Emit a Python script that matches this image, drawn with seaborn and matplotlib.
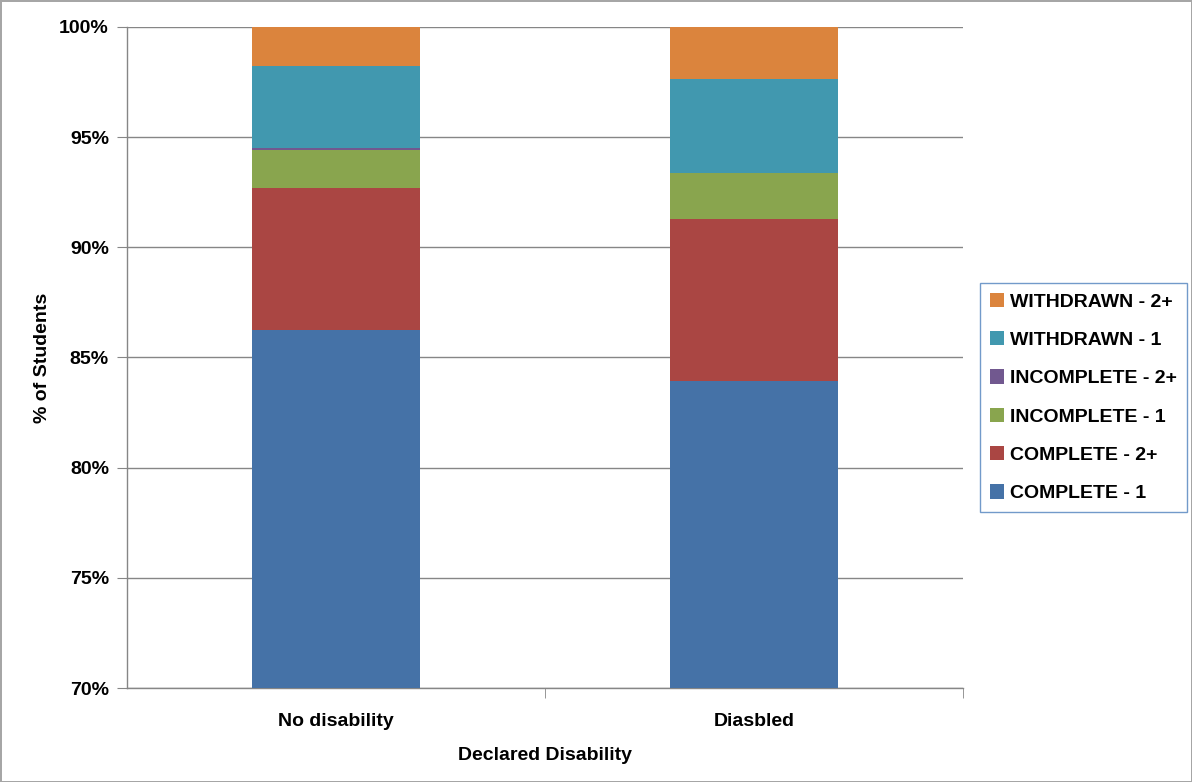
#!/usr/bin/env python3

import numpy as np
import pandas as pd
import matplotlib
matplotlib.use("Agg")
import matplotlib.pyplot as plt
from matplotlib.patches import Patch
from matplotlib.ticker import FuncFormatter
import seaborn as sns

groups = ["No disability", "Diasbled"]
outcomes = ["COMPLETE - 1", "COMPLETE - 2+", "INCOMPLETE - 1",
            "INCOMPLETE - 2+", "WITHDRAWN - 1", "WITHDRAWN - 2+"]
complete_1 = [86.25, 83.94]
complete_2 = [6.45, 7.35]
incomplete_1 = [1.72, 2.09]
incomplete_2 = [0.08, 0.0]
withdrawn_1 = [3.73, 4.26]
withdrawn_2 = [1.77, 2.36]
colors = ["#4572A7", "#AA4643", "#89A54E", "#71588F", "#4198AF", "#DB843D"]

sns.set_style("white")
plt.rcParams['font.family'] = ['Liberation Sans', 'DejaVu Sans']
plt.rcParams['text.color'] = 'black'
plt.rcParams['xtick.color'] = 'black'
plt.rcParams['ytick.color'] = 'black'
plt.rcParams['axes.labelcolor'] = 'black'

fig = plt.figure(figsize=(11.92, 7.82), dpi=100)
fig.patch.set_edgecolor("#a6a6a6")
fig.patch.set_linewidth(2)
ax = fig.add_axes([0.1065, 0.1202, 0.7013, 0.8453])

# cumulative heights, drawn from top layer down so lower layers sit on top
layers = np.array([complete_1, complete_2, incomplete_1, incomplete_2, withdrawn_1, withdrawn_2])
cum = layers.cumsum(axis=0)
for i in range(len(outcomes) - 1, -1, -1):
    df = pd.DataFrame({"group": groups, "value": cum[i]})
    sns.barplot(data=df, x="group", y="value", color=colors[i], width=0.4,
                saturation=1, ax=ax, zorder=3, linewidth=0)

ax.set_ylim(70, 100)
ax.set_xlim(-0.5, 1.5)
ax.set_yticks(np.arange(70, 101, 5))
ax.yaxis.set_major_formatter(FuncFormatter(lambda v, p: f"{v:.0f}%"))
ax.grid(axis="y", color="#868686", linewidth=1, zorder=0)
ax.set_axisbelow(True)
for s in ["top", "right"]:
    ax.spines[s].set_visible(False)
for s in ["left", "bottom"]:
    ax.spines[s].set_color("#868686")
    ax.spines[s].set_linewidth(1)
ax.tick_params(axis="y", left=True, length=7, color="#868686", labelsize=14, pad=6)
ax.tick_params(axis="x", which="major", length=0, labelsize=14, pad=18)
ax.set_xticks([0.5, 1.5], minor=True)
ax.tick_params(axis="x", which="minor", bottom=True, length=7, color="#868686")
for lbl in ax.get_yticklabels() + ax.get_xticklabels():
    lbl.set_fontweight("bold")

ax.set_xlabel("Declared Disability", fontsize=14, fontweight="bold", labelpad=12)
ax.set_ylabel("% of Students", fontsize=14, fontweight="bold", labelpad=6)

handles = [Patch(facecolor=colors[i], edgecolor="none", label=outcomes[i])
           for i in range(len(outcomes) - 1, -1, -1)]
leg = fig.legend(handles=handles, loc="upper left", bbox_to_anchor=(0.822, 0.638),
                 frameon=True, fancybox=False, prop={"size": 14, "weight": "bold"},
                 handlelength=0.75, handleheight=0.75, handletextpad=0.3,
                 labelspacing=1.05, borderpad=0.5, borderaxespad=0)
leg.get_frame().set_edgecolor("#4F81BD")
leg.get_frame().set_linewidth(1)

fig.savefig("out.png", dpi=100)
